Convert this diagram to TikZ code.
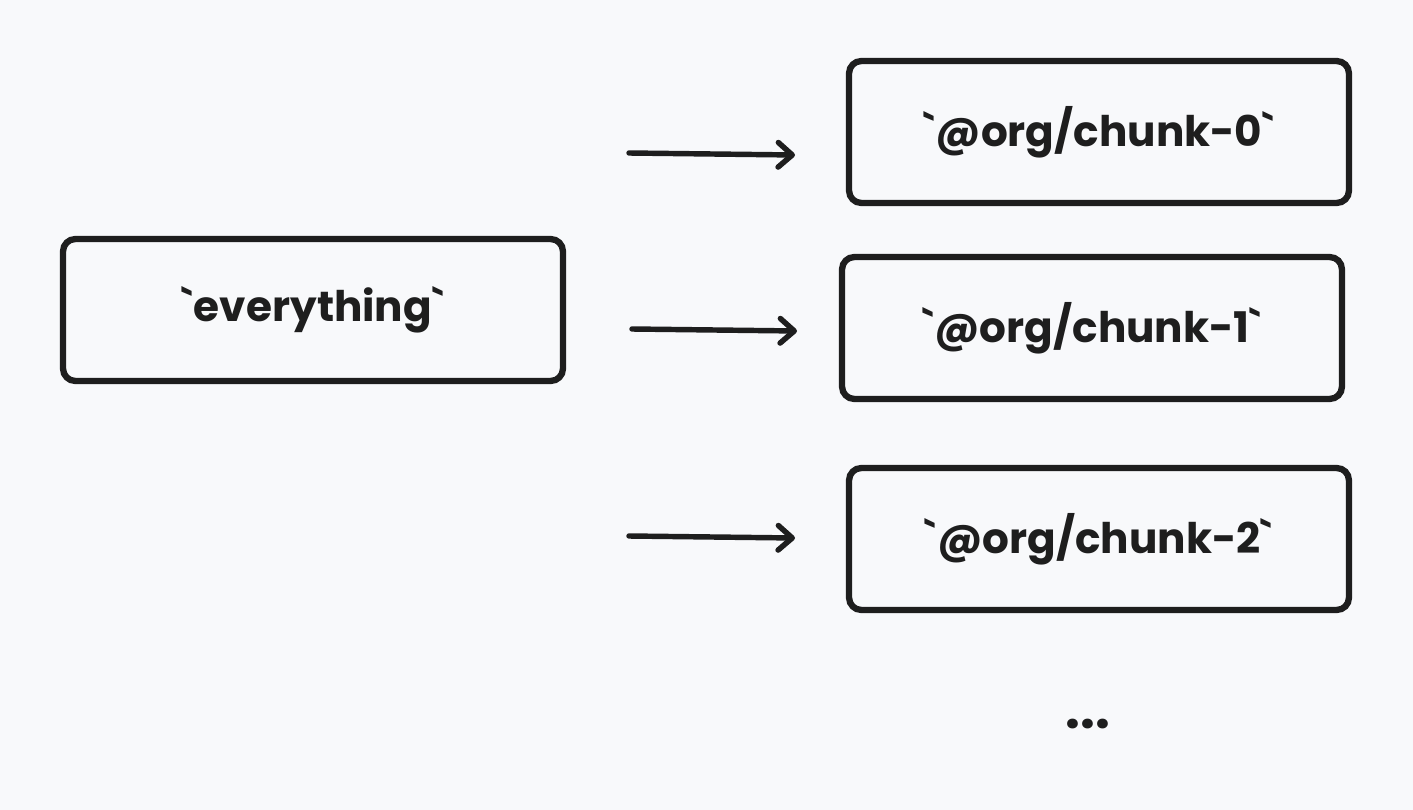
\documentclass[tikz,border=0pt]{standalone}
\usepackage{fontspec}
\setmainfont{Poppins}
\usepackage{tikz}
\usetikzlibrary{
	arrows.meta,
	positioning
}
\definecolor{paper}{HTML}{F8F9FB}
\definecolor{ink}{HTML}{1E1E1E}
\newcommand{\tick}{\textasciigrave}

\begin{document}
\begin{tikzpicture}[
			x=0.02cm, y=-0.02cm,
			font=\fontsize{24}{28}\selectfont\bfseries,
			pkg/.style={draw=ink, line width=3.6pt, rounded corners=7pt, minimum width=10cm, minimum height=2.84cm, align=center, text=ink},
			>={Straight Barb[length=8pt, width=14pt, line cap=round, line join=round]},
			flow/.style={->, draw=ink, line width=3.1pt, line cap=round}
		]

		% fond et cadre
		\fill[paper] (0,0) rectangle (1413,810);
		\useasboundingbox (0,0) rectangle (1413,810);

		% le paquet d'origine et ses morceaux
		\node[pkg] (all) at (313,310) {\tick everything\tick};
		\node[pkg] (c0) at (1099,132) {\tick @org/chunk-0\tick};
		\node[pkg] (c1) at (1092,328) {\tick @org/chunk-1\tick};
		\node[pkg] (c2) at (1099,539) {\tick @org/chunk-2\tick};
		\node[text=ink, font=\fontsize{30}{30}\selectfont\bfseries] (more) at (1088,724) {...};

		% flèches
		\coordinate (a0) at (629,153);
		\coordinate (b0) at (795,155);
		\coordinate (a1) at (632,329);
		\coordinate (b1) at (797,331);
		\coordinate (a2) at (629,536);
		\coordinate (b2) at (795,538);

		\foreach \i in {0,1,2} {
				\draw[flow] (a\i) -- (b\i);
			}
	\end{tikzpicture}
\end{document}
